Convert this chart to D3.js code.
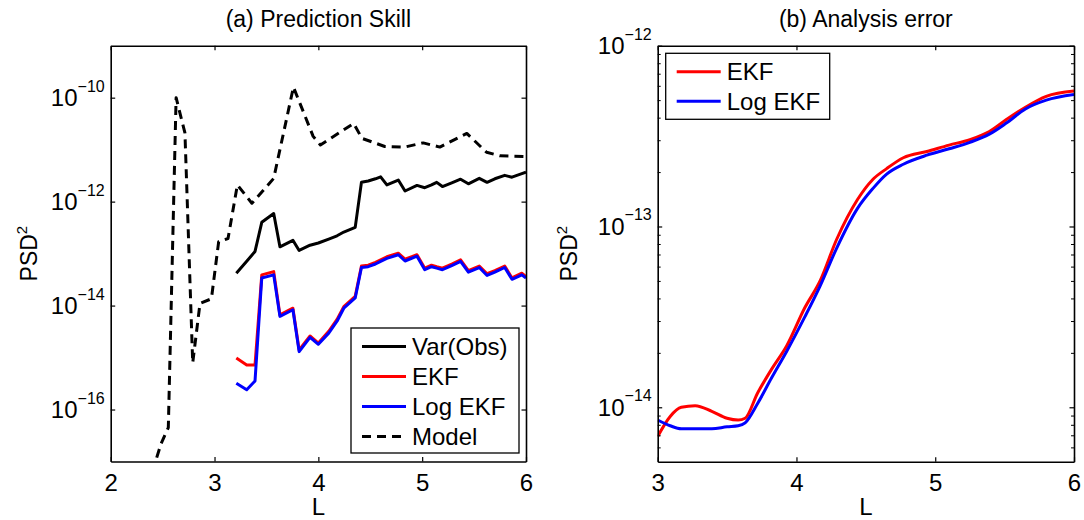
<!DOCTYPE html>
<html>
<head>
<meta charset="utf-8">
<script src="https://cdn.jsdelivr.net/npm/d3@7"></script>
<style>
  body { margin: 0; background: #fff; }
  text { font-family: "Liberation Sans", Arial, Helvetica, sans-serif; fill: #000; }
</style>
</head>
<body>
<script>
// ---- (a) Prediction skill: L grid shared by Var(Obs), EKF and Log EKF
const skillL = [3.21, 3.31, 3.39, 3.455, 3.57, 3.63, 3.755, 3.815, 3.92, 4.0, 4.1, 4.18, 4.245, 4.355,
  4.415, 4.48, 4.55, 4.6, 4.66, 4.77, 4.835, 4.95, 5.025, 5.09, 5.14, 5.195, 5.285, 5.37, 5.445,
  5.55, 5.625, 5.70, 5.795, 5.865, 5.96, 6.0];
const varObs = [4.2e-14, 7.1e-14, 1.1e-13, 4.0e-13, 5.9e-13, 1.35e-13, 1.8e-13, 1.15e-13, 1.45e-13,
  1.6e-13, 1.9e-13, 2.2e-13, 2.6e-13, 3.2e-13, 2.35e-12, 2.5e-12, 2.75e-12, 3.0e-12, 2.1e-12, 2.6e-12,
  1.6e-12, 2.05e-12, 1.85e-12, 2.1e-12, 2.35e-12, 1.95e-12, 2.3e-12, 2.7e-12, 2.2e-12, 2.8e-12,
  2.35e-12, 2.75e-12, 3.2e-12, 2.95e-12, 3.45e-12, 3.7e-12];
const ekfSkill = [9.8e-16, 7.2e-16, 7.2e-16, 3.9e-14, 4.5e-14, 6.6e-15, 8.9e-15, 1.4e-15, 2.6e-15,
  1.9e-15, 3.2e-15, 5.4e-15, 9.5e-15, 1.5e-14, 5.75e-14, 6.0e-14, 6.8e-14, 7.6e-14, 8.7e-14, 1.02e-13,
  7.8e-14, 9.5e-14, 5.25e-14, 6.0e-14, 5.6e-14, 5.25e-14, 6.3e-14, 7.6e-14, 4.7e-14, 5.75e-14,
  4.1e-14, 4.7e-14, 5.75e-14, 3.4e-14, 4.2e-14, 3.6e-14];
const logEkfSkill = [3.2e-16, 2.4e-16, 3.55e-16, 3.4e-14, 3.9e-14, 6.2e-15, 8.3e-15, 1.3e-15, 2.45e-15,
  1.8e-15, 2.95e-15, 5.0e-15, 8.9e-15, 1.4e-14, 5.4e-14, 5.6e-14, 6.3e-14, 7.1e-14, 8.1e-14, 9.5e-14,
  7.2e-14, 8.9e-14, 4.9e-14, 5.6e-14, 5.25e-14, 4.9e-14, 5.9e-14, 7.1e-14, 4.4e-14, 5.4e-14,
  3.8e-14, 4.4e-14, 5.4e-14, 3.2e-14, 3.9e-14, 3.4e-14];

// model curve has its own L values
const modelL = [2.40, 2.485, 2.555, 2.63, 2.715, 2.79, 2.86, 2.97, 3.04, 3.13, 3.22, 3.36, 3.57, 3.76,
  3.95, 4.02, 4.34, 4.42, 4.64, 4.83, 5.01, 5.17, 5.43, 5.62, 5.75, 6.0];
const modelPsd = [6.3e-18, 2.2e-17, 4.5e-17, 1.0e-10, 2.1e-11, 7.9e-16, 1.1e-14, 1.35e-14, 1.7e-13,
  1.95e-13, 2.1e-12, 9.3e-13, 2.8e-12, 1.6e-10, 1.8e-11, 1.23e-11, 3.2e-11, 1.65e-11, 1.15e-11,
  1.12e-11, 1.35e-11, 1.12e-11, 2.05e-11, 8.9e-12, 7.6e-12, 7.4e-12];

// ---- (b) Analysis error
const errL = [3.0, 3.09, 3.17, 3.27, 3.39, 3.5, 3.58, 3.63, 3.72, 3.82, 3.93, 4.06, 4.17, 4.29, 4.44,
  4.55, 4.65, 4.77, 4.94, 5.1, 5.25, 5.39, 5.51, 5.65, 5.8, 6.0];
const ekfErr = [6.9e-15, 8.9e-15, 1.0e-14, 1.02e-14, 9.5e-15, 8.7e-15, 8.5e-15, 8.7e-15, 1.2e-14,
  1.62e-14, 2.19e-14, 3.55e-14, 5.0e-14, 8.5e-14, 1.41e-13, 1.82e-13, 2.09e-13, 2.4e-13, 2.6e-13,
  2.82e-13, 3.02e-13, 3.35e-13, 3.89e-13, 4.57e-13, 5.25e-13, 5.62e-13];
const logEkfErr = [8.5e-15, 7.9e-15, 7.6e-15, 7.6e-15, 7.6e-15, 7.8e-15, 7.9e-15, 8.2e-15, 1.05e-14,
  1.45e-14, 2.04e-14, 3.16e-14, 4.68e-14, 7.6e-14, 1.26e-13, 1.62e-13, 1.95e-13, 2.21e-13, 2.48e-13,
  2.69e-13, 2.92e-13, 3.24e-13, 3.72e-13, 4.47e-13, 5.0e-13, 5.37e-13];

// ---- ticks and labels
const skillXTicks = [2, 3, 4, 5, 6];
const skillYTicks = [1e-16, 1e-14, 1e-12, 1e-10];
const errXTicks = [3, 4, 5, 6];
const errYTicks = [1e-14, 1e-13, 1e-12];
const errYMinor = [6e-15, 7e-15, 8e-15, 9e-15, 2e-14, 3e-14, 4e-14, 5e-14, 6e-14, 7e-14, 8e-14, 9e-14,
  2e-13, 3e-13, 4e-13, 5e-13, 6e-13, 7e-13, 8e-13, 9e-13];
const skillLegend = ["Var(Obs)", "EKF", "Log EKF", "Model"];
const errLegend = ["EKF", "Log EKF"];

const svg = d3.select("body").append("svg")
    .attr("width", 1084)
    .attr("height", 520);

const FONT = 23;

function drawPanel(p) {
  const x = d3.scaleLinear().domain(p.xDomain).range([p.left, p.right]);
  const y = d3.scaleLog().domain(p.yDomain).range([p.bottom, p.top]);

  svg.append("clipPath").attr("id", "clip-" + p.id)
    .append("rect")
      .attr("x", p.left).attr("y", p.top)
      .attr("width", p.right - p.left).attr("height", p.bottom - p.top);

  const lines = svg.append("g").attr("clip-path", `url(#clip-${p.id})`);
  p.series.forEach(function(s) {
    const line = d3.line()
      .x(d => x(d[0]))
      .y(d => y(d[1]))
      .curve(p.curve);
    lines.append("path")
      .datum(d3.zip(s.xs, s.ys))
      .attr("d", line)
      .attr("fill", "none")
      .attr("stroke", s.color)
      .attr("stroke-width", 3)
      .attr("stroke-linejoin", "round")
      .attr("stroke-dasharray", s.dash || null);
  });

  // box with inward ticks on all four sides; only bottom keeps its labels
  const tick = 4.5;
  const axes = [
    [d3.axisBottom(x).tickValues(p.xTicks).tickFormat(d3.format("d")), `translate(0,${p.bottom})`, true],
    [d3.axisTop(x).tickValues(p.xTicks), `translate(0,${p.top})`, false],
    [d3.axisLeft(y).tickValues(p.yTicks), `translate(${p.left},0)`, false],
    [d3.axisRight(y).tickValues(p.yTicks), `translate(${p.right},0)`, false]
  ];
  axes.forEach(function(a) {
    const g = svg.append("g")
      .attr("transform", a[1])
      .call(a[0].tickSizeInner(-tick).tickSizeOuter(0).tickPadding(12));
    g.select(".domain").attr("stroke", "#000").attr("stroke-width", 1.6);
    g.selectAll(".tick line").attr("stroke", "#000").attr("stroke-width", 1.2);
    g.selectAll(".tick text").attr("font-size", 24).attr("font-family", null);
    if (!a[2]) g.selectAll(".tick text").remove();
  });

  if (p.yMinor) {
    [[d3.axisLeft(y), p.left], [d3.axisRight(y), p.right]].forEach(function(a) {
      const g = svg.append("g")
        .attr("transform", `translate(${a[1]},0)`)
        .call(a[0].tickValues(p.yMinor).tickSizeInner(-3).tickSizeOuter(0).tickFormat(""));
      g.select(".domain").remove();
      g.selectAll(".tick line").attr("stroke", "#000").attr("stroke-width", 1);
    });
  }

  // power-of-ten labels on the left axis
  p.yTicks.forEach(function(v) {
    const e = Math.round(Math.log10(v));
    const t = svg.append("text")
      .attr("x", p.left - 6)
      .attr("y", y(v) + 8.5)
      .attr("text-anchor", "end")
      .attr("font-size", 24);
    t.append("tspan").text("10");
    t.append("tspan").attr("dy", -14.5).attr("font-size", 16).text("\u2212" + Math.abs(e));
  });

  // titles
  const cx = (p.left + p.right) / 2;
  svg.append("text")
    .attr("x", cx).attr("y", 27)
    .attr("text-anchor", "middle")
    .attr("font-size", FONT)
    .text(p.title);
  svg.append("text")
    .attr("x", cx).attr("y", 515)
    .attr("text-anchor", "middle")
    .attr("font-size", 24)
    .text("L");
  const yl = svg.append("text")
    .attr("transform", `translate(${p.yLabelX},${(p.top + p.bottom) / 2}) rotate(-90)`)
    .attr("text-anchor", "middle")
    .attr("font-size", FONT);
  yl.append("tspan").text("PSD");
  yl.append("tspan").attr("dy", -10).attr("font-size", 15).text("2");

  // legend
  const lg = p.legend;
  svg.append("rect")
    .attr("x", lg.x).attr("y", lg.y)
    .attr("width", lg.w).attr("height", lg.h)
    .attr("fill", "#fff")
    .attr("stroke", "#000")
    .attr("stroke-width", 1.3);
  lg.labels.forEach(function(label, i) {
    const s = lg.series[i];
    const cy = lg.y + lg.first + i * lg.step;
    svg.append("line")
      .attr("x1", lg.x + 11).attr("x2", lg.x + 55)
      .attr("y1", cy).attr("y2", cy)
      .attr("stroke", s.color)
      .attr("stroke-width", 3)
      .attr("stroke-dasharray", s.dash || null);
    svg.append("text")
      .attr("x", lg.x + 61).attr("y", cy + 8.5)
      .attr("font-size", 24)
      .text(label);
  });
}

const obsStyle = {color: "#000"};
const ekfStyle = {color: "#ff0000"};
const logStyle = {color: "#0000ff"};
const modelStyle = {color: "#000", dash: "9,6"};

drawPanel({
  id: "a",
  title: "(a) Prediction Skill",
  left: 110.7, right: 526, top: 45.7, bottom: 461.5,
  xDomain: [2, 6], yDomain: [1e-17, 1e-9],
  xTicks: skillXTicks, yTicks: skillYTicks,
  yLabelX: 37,
  curve: d3.curveLinear,
  series: [
    Object.assign({xs: skillL, ys: varObs}, obsStyle),
    Object.assign({xs: skillL, ys: ekfSkill}, ekfStyle),
    Object.assign({xs: skillL, ys: logEkfSkill}, logStyle),
    Object.assign({xs: modelL, ys: modelPsd}, modelStyle)
  ],
  legend: {x: 351, y: 328, w: 168, h: 125, first: 18.5, step: 30,
           labels: skillLegend, series: [obsStyle, ekfStyle, logStyle, modelStyle]}
});

drawPanel({
  id: "b",
  title: "(b) Analysis error",
  left: 657.7, right: 1074, top: 45.7, bottom: 461.7,
  xDomain: [3, 6], yDomain: [5e-15, 1e-12],
  xTicks: errXTicks, yTicks: errYTicks, yMinor: errYMinor,
  yLabelX: 577,
  curve: d3.curveMonotoneX,
  series: [
    Object.assign({xs: errL, ys: ekfErr}, ekfStyle),
    Object.assign({xs: errL, ys: logEkfErr}, logStyle)
  ],
  legend: {x: 665.7, y: 53.3, w: 164, h: 66, first: 18.5, step: 29.5,
           labels: errLegend, series: [ekfStyle, logStyle]}
});
</script>
</body>
</html>
